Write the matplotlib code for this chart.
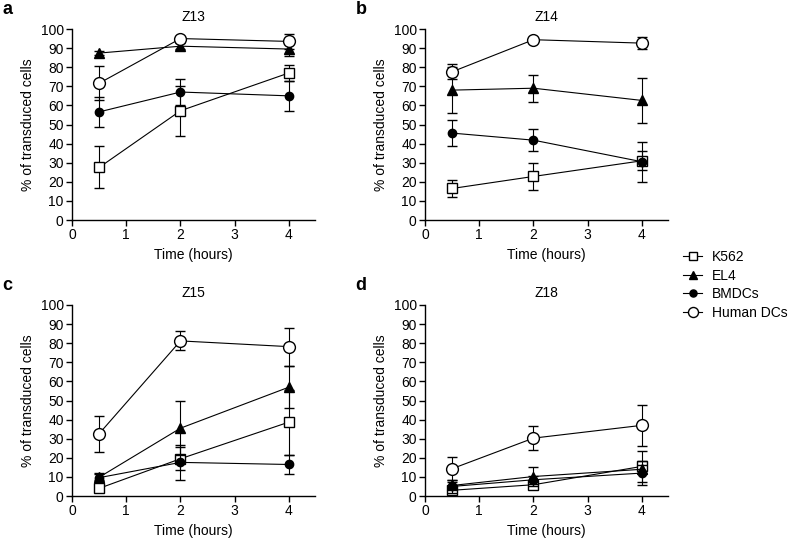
import matplotlib
matplotlib.use("Agg")
import matplotlib.pyplot as plt
from matplotlib.lines import Line2D

plt.rcParams['font.family'] = ['Liberation Sans', 'DejaVu Sans']

times = [0.5, 2, 4]
series = ["K562", "EL4", "BMDCs", "Human DCs"]
panel_letters = ["a", "b", "c", "d"]
panel_titles = ["Z13", "Z14", "Z15", "Z18"]

# means per panel, per series (K562, EL4, BMDCs, Human DCs)
z13_mean = [[27.5, 57.2, 77.0], [87.4, 91.0, 89.5], [56.6, 67.0, 65.0], [71.6, 95.0, 93.5]]
z13_err = [[11.0, 13.0, 4.0], [1.0, 1.5, 3.5], [8.0, 7.0, 8.0], [9.0, 1.0, 4.0]]
z14_mean = [[16.5, 22.8, 31.0], [68.0, 69.0, 62.6], [45.5, 41.8, 30.5], [77.6, 94.4, 92.6]]
z14_err = [[4.6, 7.0, 5.0], [12.0, 7.0, 12.0], [7.0, 5.7, 10.5], [4.0, 1.0, 3.0]]
z15_mean = [[4.0, 19.5, 38.7], [9.8, 35.5, 57.0], [9.6, 17.6, 16.5], [32.6, 81.2, 78.2]]
z15_err = [[2.0, 6.0, 17.0], [1.5, 14.0, 11.0], [2.5, 9.0, 5.0], [9.5, 5.0, 10.0]]
z18_mean = [[3.0, 5.9, 15.5], [5.5, 10.2, 14.0], [5.0, 8.5, 12.0], [14.3, 30.3, 37.0]]
z18_err = [[1.0, 1.0, 8.0], [2.0, 4.8, 2.0], [3.3, 2.0, 6.5], [6.0, 6.3, 10.7]]

means = [z13_mean, z14_mean, z15_mean, z18_mean]
errs = [z13_err, z14_err, z15_err, z18_err]

styles = [
    dict(marker='s', mfc='white', mec='black', ms=7.5),
    dict(marker='^', mfc='black', mec='black', ms=6.5),
    dict(marker='o', mfc='black', mec='black', ms=6.0),
    dict(marker='o', mfc='white', mec='black', ms=8.5),
]

fig = plt.figure(figsize=(7.88, 5.40), dpi=100)
W, H = 788, 540
positions = [(72, 220), (425, 220), (72, 496), (425, 496)]
aw, ah = 243, 191
FS = 10

for i in range(4):
    x0, yb = positions[i]
    ax = fig.add_axes([x0 / W, (H - yb) / H, aw / W, ah / H])
    for s in range(4):
        st = styles[s]
        ax.errorbar(times, means[i][s], yerr=errs[i][s], color='black', lw=0.8,
                    elinewidth=0.8, capsize=3.5, capthick=0.8,
                    marker=st['marker'], mfc=st['mfc'], mec=st['mec'], ms=st['ms'],
                    mew=1.0, zorder=3 + s)
    ax.set_xlim(0, 4.48)
    ax.set_ylim(0, 100)
    ax.set_xticks([0, 1, 2, 3, 4])
    ax.set_yticks(range(0, 101, 10))
    ax.spines['top'].set_visible(False)
    ax.spines['right'].set_visible(False)
    ax.spines['left'].set_linewidth(1.0)
    ax.spines['bottom'].set_linewidth(1.0)
    ax.tick_params(direction='out', length=4, width=1.0, labelsize=FS, pad=2)
    ax.set_xlabel("Time (hours)", fontsize=FS, labelpad=4)
    ax.set_ylabel("% of transduced cells", fontsize=FS, labelpad=4)
    ax.set_title(panel_titles[i], fontsize=FS, pad=6)
    ax.text(-0.285, 1.06, panel_letters[i], transform=ax.transAxes,
            fontsize=13, fontweight='bold', va='bottom', ha='left')

handles = []
for s in range(4):
    st = styles[s]
    handles.append(Line2D([0], [0], color='black', lw=0.8, marker=st['marker'],
                          mfc=st['mfc'], mec=st['mec'], ms=st['ms'] * 0.85, mew=1.0))
fig.legend(handles, series, loc='upper left', bbox_to_anchor=(683 / W, 1 - 250 / H),
           frameon=False, fontsize=FS, handlelength=1.37, handletextpad=0.7,
           labelspacing=0.33, borderaxespad=0, borderpad=0)

fig.savefig("out.png", dpi=100)
